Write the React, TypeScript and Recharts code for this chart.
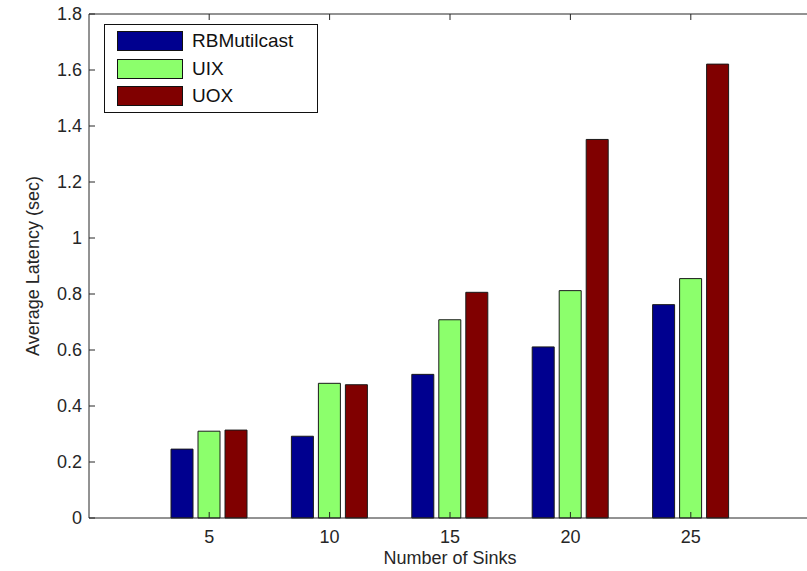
import React from 'react'
import { BarChart, Bar, XAxis, YAxis, Legend } from 'recharts'

const sinks = ['5', '10', '15', '20', '25']
const rbMulticast = [0.246, 0.292, 0.513, 0.611, 0.762]
const uix = [0.31, 0.481, 0.708, 0.812, 0.855]
const uox = [0.314, 0.476, 0.806, 1.352, 1.621]
const yTicks = [0, 0.2, 0.4, 0.6, 0.8, 1, 1.2, 1.4, 1.6, 1.8]

const data = sinks.map((s, i) => ({
  name: s,
  RBMutilcast: rbMulticast[i],
  UIX: uix[i],
  UOX: uox[i],
}))

const font = '"Liberation Sans", Arial, sans-serif'
const ink = '#262626'

function LegendBox({ payload }: any) {
  return (
    <div
      style={{
        position: 'relative',
        border: '1px solid #111',
        background: '#fff',
        width: 212,
        height: 87,
        fontFamily: font,
      }}
    >
      {(payload || []).map((p: any, i: number) => (
        <div
          key={i}
          style={{ display: 'flex', alignItems: 'center', position: 'absolute', left: 12, top: 6 + i * 27.5 }}
        >
          <div style={{ width: 64, height: 18, background: p.color, border: '1px solid #111' }} />
          <span style={{ marginLeft: 9, fontSize: 19, color: '#111', lineHeight: '20px' }}>{p.value}</span>
        </div>
      ))}
    </div>
  )
}

// short inward tick on the right frame, which sits just past the page edge
function RightTick(props: any) {
  const { y } = props
  return <line x1={802} x2={808} y1={y} y2={y} stroke={ink} strokeWidth={1} />
}

export default function App() {
  return (
    <div style={{ position: 'absolute', left: 0, top: 0, width: 807, height: 571, overflow: 'hidden', background: '#fff' }}>
      <BarChart
        width={820}
        height={571}
        data={data}
        margin={{ top: 0, right: 0, left: 0, bottom: 0 }}
        barSize={22}
        barGap={5}
      >
        <XAxis
          dataKey="name"
          height={53}
          padding={{ left: 60, right: 60 }}
          tickSize={-6}
          tickMargin={18}
          stroke={ink}
          tick={{ fill: ink, fontSize: 18, fontFamily: font }}
          label={{ value: 'Number of Sinks', position: 'insideBottom', offset: 7, fill: ink, fontSize: 18, fontFamily: font }}
        />
        <XAxis
          xAxisId="top"
          orientation="top"
          dataKey="name"
          height={14}
          padding={{ left: 60, right: 60 }}
          tickSize={-6}
          stroke={ink}
          tickFormatter={() => ''}
        />
        <YAxis
          width={89}
          domain={[0, 1.8]}
          ticks={yTicks}
          interval={0}
          tickSize={-6}
          tickMargin={13}
          stroke={ink}
          tick={{ fill: ink, fontSize: 18, fontFamily: font }}
          label={{ value: 'Average Latency (sec)', angle: -90, position: 'center', dx: -12, fill: ink, fontSize: 18, fontFamily: font }}
        />
        <YAxis
          yAxisId="right"
          orientation="right"
          width={9}
          domain={[0, 1.8]}
          ticks={yTicks}
          interval={0}
          tickLine={false}
          axisLine={false}
          tickMargin={0}
          tick={<RightTick />}
        />
        <Legend
          layout="horizontal"
          verticalAlign="middle"
          align="center"
          content={<LegendBox />}
          wrapperStyle={{ position: 'absolute', left: 104, top: 24, width: 214, height: 89 }}
        />
        <Bar dataKey="RBMutilcast" fill="#00008f" stroke="#1a1a1a" strokeWidth={1} isAnimationActive={false} />
        <Bar dataKey="UIX" fill="#8cff6c" stroke="#1a1a1a" strokeWidth={1} isAnimationActive={false} />
        <Bar dataKey="UOX" fill="#800000" stroke="#1a1a1a" strokeWidth={1} isAnimationActive={false} />
      </BarChart>
    </div>
  )
}
